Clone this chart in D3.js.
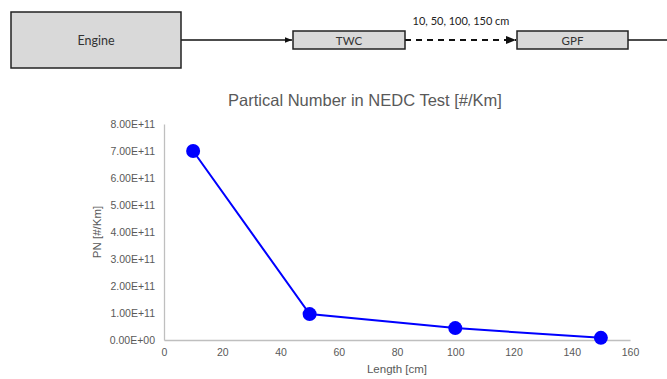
<!DOCTYPE html>
<html>
<head>
<meta charset="utf-8">
<script src="https://cdn.jsdelivr.net/npm/d3@7"></script>
<style>
  body { margin: 0; background: #fff; }
  svg { display: block; }
</style>
</head>
<body>
<svg id="chart" width="667" height="379"></svg>
<script>
// data
const lengths = [10, 50, 100, 150];
const pnValues = [7.0e11, 0.96e11, 0.44e11, 0.08e11];
const xTicks = [0, 20, 40, 60, 80, 100, 120, 140, 160];
const yTicks = [0, 1e11, 2e11, 3e11, 4e11, 5e11, 6e11, 7e11, 8e11];
const blocks = ['Engine', 'TWC', 'GPF'];
const gapLabel = '10, 50, 100, 150 cm';

const svg = d3.select('#chart');
const grey = '#595959';

// --- schematic on top ---
const diag = svg.append('g').style('font-family', 'Lato, "Open Sans", sans-serif');

svg.append('defs').append('marker')
  .attr('id', 'arrow')
  .attr('viewBox', '0 0 10 10')
  .attr('refX', 10).attr('refY', 5)
  .attr('markerWidth', 5).attr('markerHeight', 5)
  .attr('orient', 'auto')
  .append('path')
  .attr('d', 'M0,1 L10,5 L0,9 z')
  .attr('fill', '#111');

const boxes = [
  { name: blocks[0], x: 11, y: 12, w: 170, h: 56, fs: 12.5 },
  { name: blocks[1], x: 293, y: 31, w: 112, h: 18, fs: 11.5 },
  { name: blocks[2], x: 517, y: 31, w: 111, h: 18, fs: 11.5 }
];

diag.append('line')
  .attr('x1', 181).attr('y1', 40).attr('x2', 292).attr('y2', 40)
  .attr('stroke', '#111').attr('stroke-width', 1.5)
  .attr('marker-end', 'url(#arrow)');
diag.append('line')
  .attr('x1', 405).attr('y1', 40).attr('x2', 516).attr('y2', 40)
  .attr('stroke', '#111').attr('stroke-width', 2)
  .attr('stroke-dasharray', '6,5')
  .attr('marker-end', 'url(#arrow)');
diag.append('line')
  .attr('x1', 628).attr('y1', 40).attr('x2', 667).attr('y2', 40)
  .attr('stroke', '#111').attr('stroke-width', 1.5);

const bx = diag.selectAll('g.box').data(boxes).enter().append('g').attr('class', 'box');
bx.append('rect')
  .attr('x', d => d.x).attr('y', d => d.y)
  .attr('width', d => d.w).attr('height', d => d.h)
  .attr('fill', '#d9d9d9').attr('stroke', '#222').attr('stroke-width', 1.5);
bx.append('text')
  .attr('x', d => d.x + d.w / 2).attr('y', d => d.y + d.h / 2 + 4.5)
  .attr('text-anchor', 'middle')
  .attr('font-size', d => d.fs).attr('fill', '#333')
  .text(d => d.name);

diag.append('text')
  .attr('x', 461).attr('y', 25)
  .attr('text-anchor', 'middle')
  .attr('font-size', 11).attr('fill', '#222')
  .text(gapLabel);

// --- line chart ---
const margin = { top: 124, right: 37, bottom: 39, left: 164 };
const width = 667 - margin.left - margin.right;
const height = 379 - margin.top - margin.bottom;

const g = svg.append('g')
  .attr('transform', `translate(${margin.left},${margin.top})`)
  .style('font-family', '"Liberation Sans", Arial, sans-serif');

const x = d3.scaleLinear().domain([0, 160]).range([0, width]);
const y = d3.scaleLinear().domain([0, 8e11]).range([height, 0]);

const fmtY = d => d === 0 ? '0.00E+00' : (d / 1e11).toFixed(2) + 'E+11';

const yAxis = g.append('g')
  .call(d3.axisLeft(y).tickValues(yTicks).tickFormat(fmtY).tickSize(0).tickPadding(9));
const xAxis = g.append('g')
  .attr('transform', `translate(0,${height})`)
  .call(d3.axisBottom(x).tickValues(xTicks).tickSize(0).tickPadding(9));

[xAxis, yAxis].forEach(a => {
  a.select('.domain').attr('stroke', '#bfbfbf').attr('stroke-width', 1.3);
  a.selectAll('text').attr('fill', grey).attr('font-size', 10.5)
    .style('font-family', '"Liberation Sans", Arial, sans-serif');
});

const points = lengths.map((l, i) => ({ l, v: pnValues[i] }));

g.append('path')
  .datum(points)
  .attr('fill', 'none')
  .attr('stroke', '#0000ff')
  .attr('stroke-width', 2)
  .attr('d', d3.line().x(d => x(d.l)).y(d => y(d.v)));

g.selectAll('circle')
  .data(points)
  .enter().append('circle')
  .attr('cx', d => x(d.l))
  .attr('cy', d => y(d.v))
  .attr('r', 7)
  .attr('fill', '#0000ff');

// titles
svg.append('text')
  .attr('x', 365).attr('y', 106)
  .attr('text-anchor', 'middle')
  .attr('font-size', 16.5).attr('fill', grey)
  .style('font-family', '"Liberation Sans", Arial, sans-serif')
  .text('Partical Number in NEDC Test [#/Km]');

svg.append('text')
  .attr('x', margin.left + width / 2).attr('y', 373)
  .attr('text-anchor', 'middle')
  .attr('font-size', 11.5).attr('fill', grey)
  .style('font-family', '"Liberation Sans", Arial, sans-serif')
  .text('Length [cm]');

svg.append('text')
  .attr('transform', `translate(101,${margin.top + height / 2}) rotate(-90)`)
  .attr('text-anchor', 'middle')
  .attr('font-size', 11.5).attr('fill', grey)
  .style('font-family', '"Liberation Sans", Arial, sans-serif')
  .text('PN [#/Km]');
</script>
</body>
</html>
